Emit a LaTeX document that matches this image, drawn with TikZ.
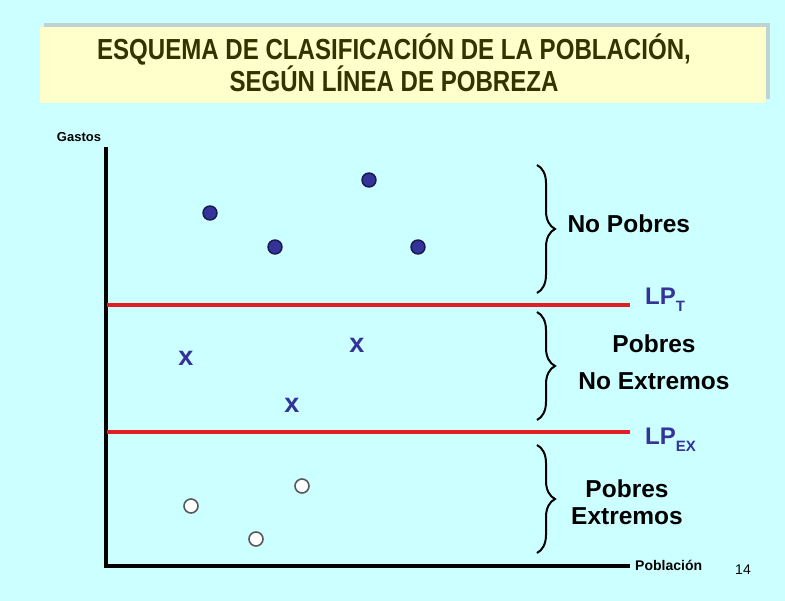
\documentclass[tikz,border=0pt]{standalone}
\usepackage{fontspec}
\setmainfont{Liberation Sans}
\newfontfamily\titlefont[FakeStretch=0.83]{Liberation Sans}
\usetikzlibrary{decorations.pathreplacing}
\definecolor{bgcyan}{RGB}{204,255,255}
\definecolor{titlebg}{RGB}{255,255,204}
\definecolor{titleshadow}{RGB}{190,212,210}
\definecolor{titletext}{RGB}{51,51,0}
\definecolor{navy}{RGB}{51,51,153}
\definecolor{lpred}{RGB}{226,30,36}
\newcommand{\lpsub}[1]{\raisebox{-7pt}{\fontsize{15}{15}\selectfont #1}}
\tikzset{x=1pt, y=-1pt,
 title/.style={font=\titlefont\fontsize{29}{32}\selectfont\bfseries, text=titletext, align=center},
 axis/.style={line width=3.5pt},
 lpline/.style={draw=lpred, line width=4pt},
 lplabel/.style={anchor=base west, text=navy, inner sep=0pt, font=\fontsize{24}{26}\selectfont\bfseries},
 group/.style={font=\fontsize{24.5}{37}\selectfont\bfseries, align=center},
 rbrace/.style={decorate, decoration={brace, amplitude=18pt}, line width=2pt},
 rich/.style={circle, fill=navy, draw=navy!50!black, line width=1.4pt, minimum size=14pt, inner sep=0pt},
 poor/.style={text=navy, inner sep=0pt, font=\fontsize{27}{27}\selectfont\bfseries},
 extreme/.style={circle, fill=white, draw=gray!70!black, line width=1.6pt, minimum size=14pt, inner sep=0pt},
 }

\begin{document}
\begin{tikzpicture}
    % background and title
    \fill[bgcyan] (0,0) rectangle (785,601);
    \fill[titleshadow] (44,23) rectangle (770,99);
    \fill[titlebg] (40,27) rectangle (766,103);
    \node[title] (title) at (394,63) {ESQUEMA DE CLASIFICACIÓN DE LA POBLACIÓN,\\SEGÚN LÍNEA DE POBREZA};

    % axes
    \coordinate (ytop) at (106,147);
    \coordinate (origin) at (106,566);
    \coordinate (xend) at (630,566);
    \draw[axis] (ytop) -- (origin) -- (xend);
    \node[font=\fontsize{13}{13}\selectfont\bfseries] (gastos) at (79,137) {Gastos};
    \node[anchor=west, inner sep=0pt, font=\fontsize{14}{14}\selectfont\bfseries] (poblacion) at (635,565) {Población};
    \node[font=\fontsize{14}{14}\selectfont] (page) at (743,570) {14};

    % poverty lines
    \coordinate (lpt-a) at (107,305);
    \coordinate (lpt-b) at (630,305);
    \coordinate (lpex-a) at (107,432);
    \coordinate (lpex-b) at (630,432);
    \draw[lpline] (lpt-a) -- (lpt-b);
    \draw[lpline] (lpex-a) -- (lpex-b);
    \node[lplabel] (lpt) at (645,305) {LP\lpsub{T}};
    \node[lplabel] (lpex) at (645,445) {LP\lpsub{EX}};

    % braces and groups
    \foreach \name/\top/\bot in {nopobres/165/293, noextremos/312/420, extremos/445/553} {
        \coordinate (\name-top) at (537,\top);
        \coordinate (\name-bot) at (537,\bot);
        \draw[rbrace] (\name-top) -- (\name-bot);
    }
    \node[group, anchor=west] (g1) at (564,224) {No Pobres};
    \node[group] (g2) at (654,362) {Pobres\\No Extremos};
    \node[group, font=\fontsize{24.5}{27}\selectfont\bfseries] (g3) at (627,502) {Pobres\\Extremos};

    % population
    \foreach \x/\y [count=\i] in {210/213, 275/247, 369/180, 418/247}
        \node[rich] (r\i) at (\x,\y) {};
    \foreach \x/\y [count=\i] in {186/358, 357/345, 292/405}
        \node[poor] (p\i) at (\x,\y) {x};
    \foreach \x/\y [count=\i] in {191/506, 302/486, 256/539}
        \node[extreme] (e\i) at (\x,\y) {};
\end{tikzpicture}
\end{document}
